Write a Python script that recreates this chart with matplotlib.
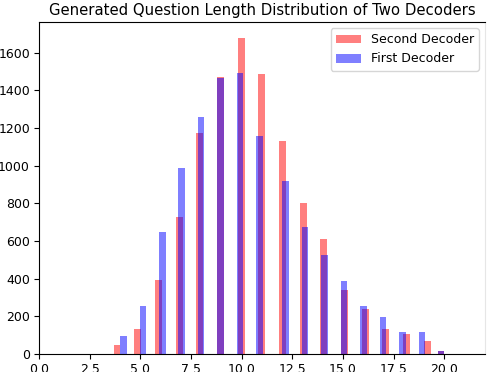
import numpy as np
import matplotlib
matplotlib.use("Agg")
import matplotlib.pyplot as plt

# Question lengths and their counts
second_lengths = [3, 4, 5, 6, 7, 8, 9, 10, 11, 12, 13, 14, 15, 16, 17, 18, 19, 20]
second_counts = [2, 50, 135, 395, 727, 1172, 1468, 1678, 1485, 1130, 800, 612, 340, 240, 134, 107, 70, 17]

first_lengths = [4, 5, 6, 7, 8, 9, 10, 11, 12, 13, 14, 15, 16, 17, 18, 19, 20]
first_counts = [97, 256, 648, 987, 1257, 1465, 1490, 1156, 918, 674, 526, 388, 256, 198, 118, 118, 17]

xticks = [0.0, 2.5, 5.0, 7.5, 10.0, 12.5, 15.0, 17.5, 20.0]

second = np.repeat(second_lengths, second_counts)
first = np.repeat(first_lengths, first_counts)

fig = plt.figure(figsize=(4.88, 3.72), dpi=100)
ax = fig.add_axes([39/488, 1 - 354/372, (485 - 39)/488, (354 - 22)/372])

ax.hist(second, bins=50, alpha=0.5, color='r', label='Second Decoder')
ax.hist(first, bins=50, alpha=0.5, color='b', label='First Decoder')

ax.set_xlim(0, 22)
ax.set_xticks(xticks)
ax.set_xticklabels([f"{t:.1f}" for t in xticks])
ax.tick_params(labelsize=9, pad=3)
ax.spines['right'].set_color('#e6e6e6')
ax.set_title('Generated Question Length Distribution of Two Decoders', fontsize=10.7, pad=5)
ax.legend(loc='upper right', fontsize=9)

fig.savefig('out.png', dpi=100)
